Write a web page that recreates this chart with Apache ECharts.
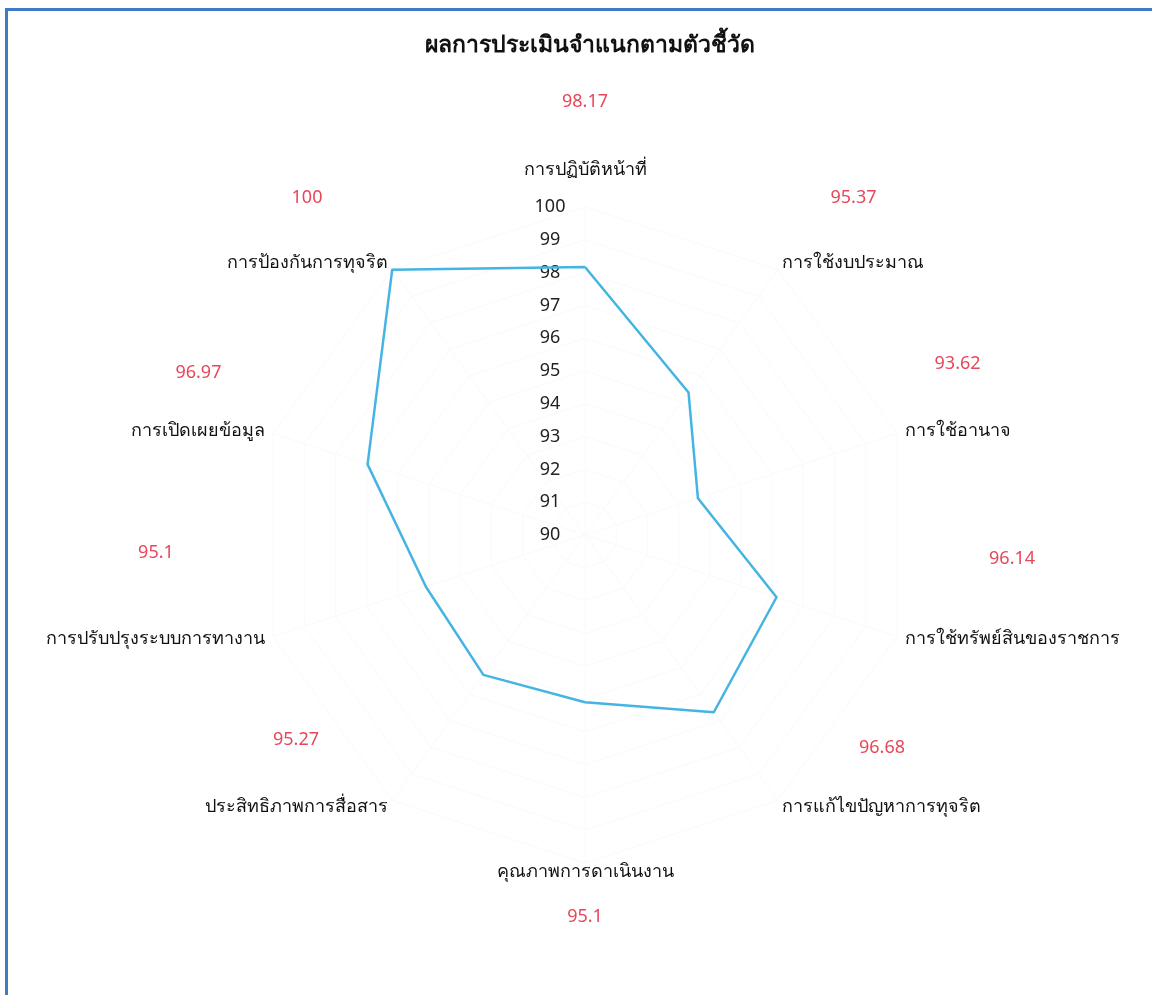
<!DOCTYPE html>
<html>
<head>
<meta charset="utf-8">
<script src="https://cdn.jsdelivr.net/npm/echarts@6/dist/echarts.min.js"></script>
<style>
html,body{margin:0;padding:0;background:#fff;}
#frame{position:absolute;left:5px;top:8px;width:1147px;height:987px;border-left:3px solid #3d7cc9;border-top:3px solid #3d7cc9;box-sizing:border-box;pointer-events:none;z-index:5;}
#chart{position:absolute;left:0;top:0;width:1152px;height:995px;}
</style>
</head>
<body>
<div id="chart"></div>
<div id="frame"></div>
<script>
var titleText = 'ผลการประเมินจำแนกตามตัวชี้วัด';
// categories listed clockwise starting from the top
var categories = [
  'การปฏิบัติหน้าที่',
  'การใช้งบประมาณ',
  'การใช้อานาจ',
  'การใช้ทรัพย์สินของราชการ',
  'การแก้ไขปัญหาการทุจริต',
  'คุณภาพการดาเนินงาน',
  'ประสิทธิภาพการสื่อสาร',
  'การปรับปรุงระบบการทางาน',
  'การเปิดเผยข้อมูล',
  'การป้องกันการทุจริต'
];
var values = [98.17, 95.37, 93.62, 96.14, 96.68, 95.1, 95.27, 95.1, 96.97, 100];
var axisMin = 90;
var axisMax = 100;

// layout only: vertical distance (px) from each axis name to its value label
var labelGap = [68, 65, 67, 80, 59, 45, 67, 86, 58, 65];

var FONT = '"Noto Sans", "Open Sans", sans-serif';
var FS = 18;
var chart = echarts.init(document.getElementById('chart'));

// ECharts radar runs counter-clockwise; reorder so the chart reads clockwise
var order = [0];
for (var k = categories.length - 1; k >= 1; k--) order.push(k);

var indicators = order.map(function (i) {
  var ind = { name: categories[i], min: axisMin, max: axisMax };
  if (i === 0) {
    ind.axisLabel = { show: true, color: '#222', fontSize: FS, fontFamily: FONT, margin: 35, align: 'center' };
  }
  return ind;
});
var drawValues = order.map(function (i) { return values[i]; });

var NAME_LH = 22;
var rich = {
  n: { color: '#111', fontSize: FS, fontFamily: FONT, lineHeight: NAME_LH, align: 'center' },
  nb: { color: '#111', fontSize: FS, fontFamily: FONT, lineHeight: 2, align: 'center' },
  t: { lineHeight: 16 }
};
categories.forEach(function (c, i) {
  var lh = 2 * (labelGap[i] - NAME_LH / 2);
  if (i === 0) lh = 2 * (labelGap[i] - NAME_LH / 2);
  if (i === 5) lh = 2 * (labelGap[i] - 1);
  rich['v' + i] = { color: '#e8475a', fontSize: FS, fontFamily: FONT, lineHeight: lh, align: 'center' };
  rich['e' + i] = { lineHeight: lh };
});

chart.setOption({
  backgroundColor: '#fff',
  title: {
    text: titleText,
    left: 585,
    textAlign: 'center',
    top: 29,
    textStyle: { fontSize: 23, fontWeight: 'bold', color: '#111', fontFamily: FONT }
  },
  radar: {
    center: [585, 535],
    radius: 328,
    startAngle: 90,
    splitNumber: 10,
    shape: 'polygon',
    indicator: indicators,
    nameGap: 8,
    axisName: {
      color: '#111',
      fontSize: FS,
      fontFamily: FONT,
      formatter: function (name) {
        var i = categories.indexOf(name);
        var v = values[i];
        if (i === 0) return '{v0|' + v + '}\n{n|' + name + '}\n{t|}';
        if (i === 5) return '{nb|' + name + '}\n{v5|' + v + '}';
        return '{v' + i + '|' + v + '}\n{n|' + name + '}\n{e' + i + '|}';
      },
      rich: rich
    },
    axisLine: { show: true, lineStyle: { color: '#fafafa' } },
    splitLine: { show: true, lineStyle: { color: '#fafafa' } },
    splitArea: { show: false },
    axisTick: { show: false },
    axisLabel: { show: false }
  },
  series: [{
    type: 'radar',
    symbol: 'none',
    lineStyle: { color: '#45b4e2', width: 2.5 },
    itemStyle: { color: '#45b4e2' },
    data: [{ value: drawValues, name: titleText }]
  }]
});
</script>
</body>
</html>
